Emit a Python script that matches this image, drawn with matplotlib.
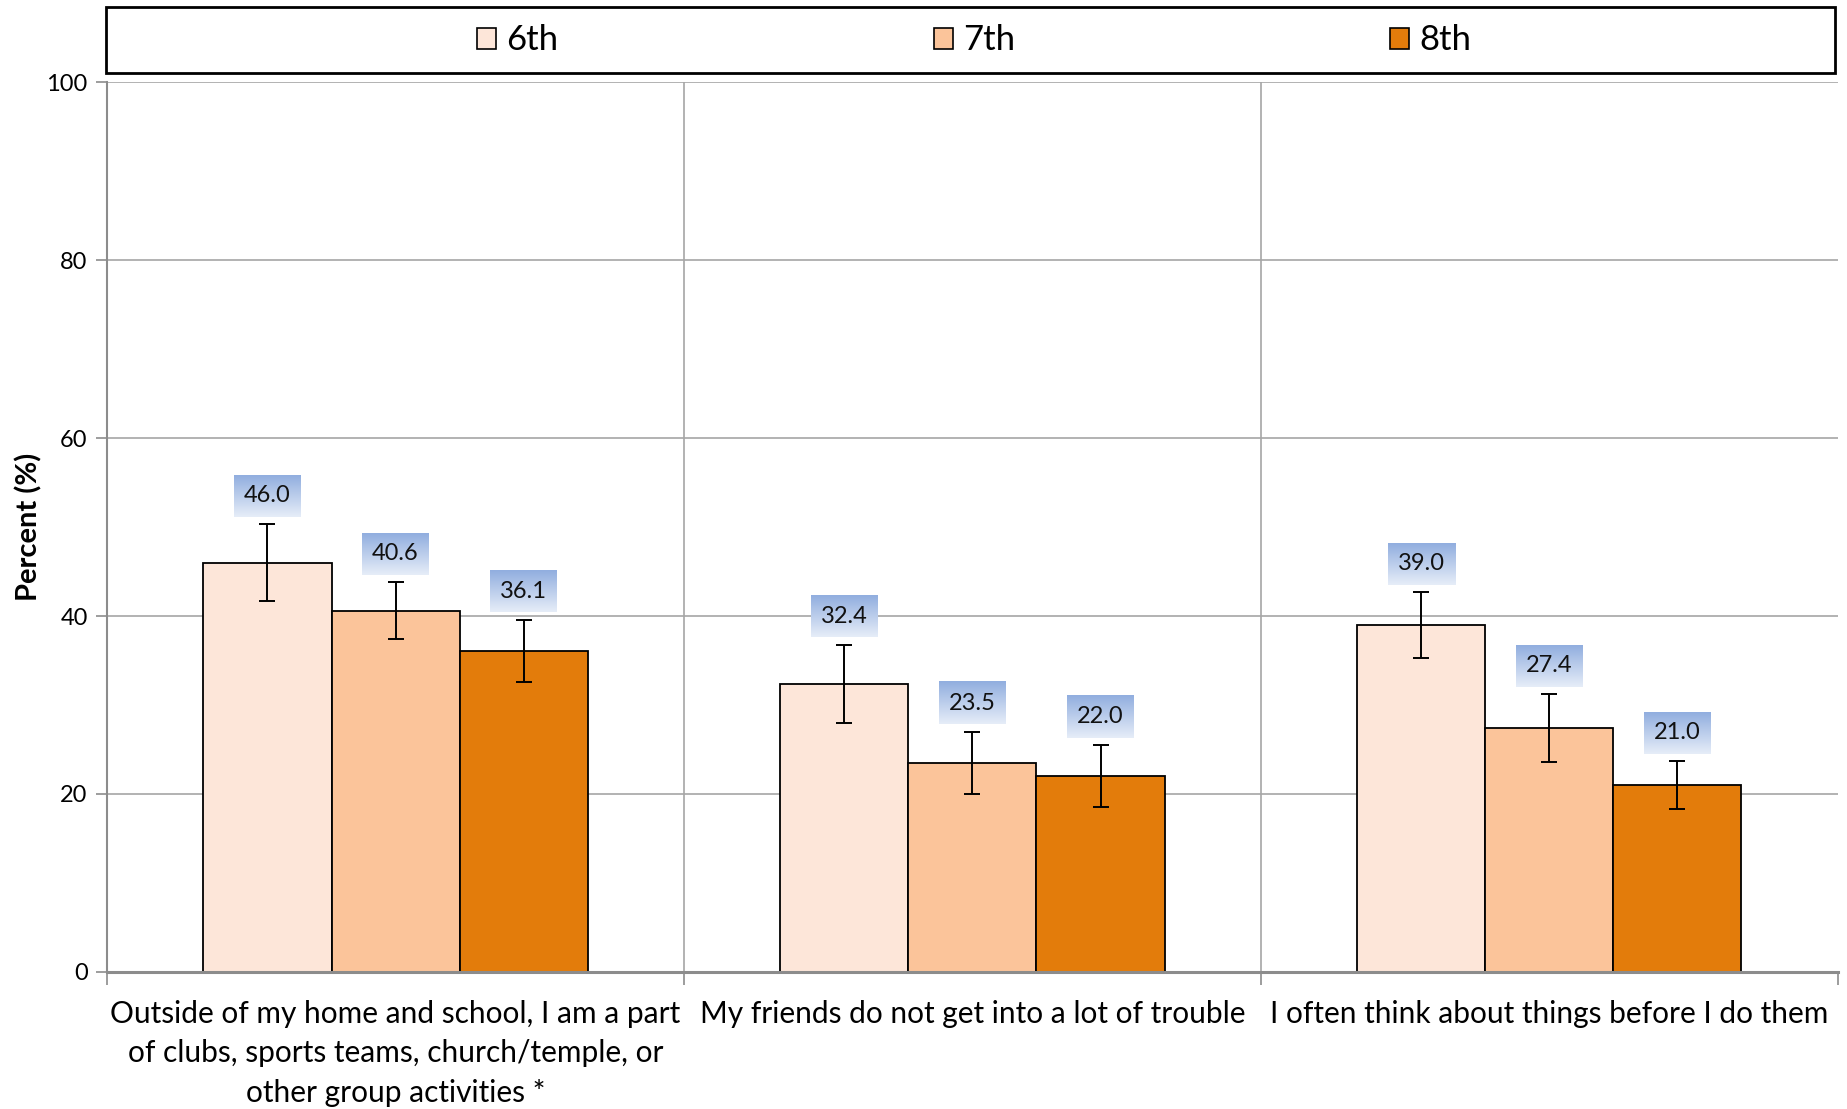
import matplotlib
matplotlib.use('Agg')
import matplotlib.pyplot as plt
import numpy as np
from matplotlib.patches import Rectangle
from matplotlib.colors import LinearSegmentedColormap

# data
categories = ['Outside of my home and school, I am a part\nof clubs, sports teams, church/temple, or\nother group activities *',
              'My friends do not get into a lot of trouble',
              'I often think about things before I do them']
grades = ['6th', '7th', '8th']
pct_6th = [46.0, 32.4, 39.0]
pct_7th = [40.6, 23.5, 27.4]
pct_8th = [36.1, 22.0, 21.0]
err_6th = [4.3, 4.4, 3.7]
err_7th = [3.2, 3.5, 3.8]
err_8th = [3.5, 3.5, 2.7]
yticks = [0, 20, 40, 60, 80, 100]

colors = ['#FDE6D9', '#FBC49A', '#E37C0B']
grid_col = '#A6A6A6'
axis_col = '#8C8C8C'

plt.rcParams['font.family'] = ['Lato', 'DejaVu Sans']

fig = plt.figure(figsize=(18.47, 11.09), dpi=100)
ax = fig.add_axes([0.058, 0.1237, 0.937, 0.802])

x = np.arange(len(categories))
w = 0.222
series = [(pct_6th, err_6th), (pct_7th, err_7th), (pct_8th, err_8th)]
labels = []
for i, (vals, errs) in enumerate(series):
    xs = x + (i - 1) * w
    ax.bar(xs, vals, width=w, color=colors[i], edgecolor='black', linewidth=1.3, zorder=2)
    ax.errorbar(xs, vals, yerr=errs, fmt='none', ecolor='black', elinewidth=1.4,
                capsize=6, capthick=1.4, zorder=3)
    for xx, v, e in zip(xs, vals, errs):
        labels.append(ax.text(xx, v + e + 3.2, f'{v:.1f}', ha='center', va='center',
                              fontsize=17, color='#111111', zorder=5))

ax.set_xlim(-0.5, len(categories) - 0.5)
ax.set_ylim(0, 100)
ax.set_yticks(yticks)
ax.yaxis.grid(True, color=grid_col, linewidth=1.2, zorder=0)
ax.set_axisbelow(True)
for b in x[:-1] + 0.5:
    ax.axvline(b, color=grid_col, linewidth=1.2, zorder=0)

ax.set_xticks(np.append(x - 0.5, x[-1] + 0.5))
ax.set_xticklabels([])
ax.set_xticks(x, minor=True)
ax.set_xticklabels(categories, minor=True, fontsize=21.5, linespacing=1.5)
ax.tick_params(axis='x', which='major', direction='out', length=9, width=1.2, color=axis_col)
ax.tick_params(axis='x', which='minor', length=0, pad=20)
ax.tick_params(axis='y', direction='out', length=8, width=1.2, color=axis_col, labelsize=17, pad=6)

for s in ['top', 'right']:
    ax.spines[s].set_visible(False)
ax.spines['left'].set_color(axis_col)
ax.spines['left'].set_linewidth(1.5)
ax.spines['bottom'].set_color(axis_col)
ax.spines['bottom'].set_linewidth(2.2)

ax.set_ylabel('Percent (%)', fontsize=21, fontweight='bold', labelpad=3)

# legend in a full-width box above the plot
handles = [Rectangle((0, 0), 1, 1, facecolor=c, edgecolor='black', linewidth=1.2) for c in colors]
fig.legend(handles, grades, loc='center', bbox_to_anchor=(0.5275, 0.9635), ncol=3, frameon=False,
           fontsize=25, handlelength=0.55, handleheight=0.55, handletextpad=0.3, columnspacing=10.8)
fig.add_artist(Rectangle((0.0574, 0.934), 0.936, 0.0597, transform=fig.transFigure,
                         fill=False, edgecolor='black', linewidth=2))

# gradient boxes behind the value labels
fig.canvas.draw()
renderer = fig.canvas.get_renderer()
cmap = LinearSegmentedColormap.from_list('lbl', ['#91AEDF', '#E6EDF8'])
grad = np.linspace(0, 1, 64).reshape(-1, 1)
inv = ax.transData.inverted()
for t in labels:
    bb = t.get_window_extent(renderer)
    cx, cy = (bb.x0 + bb.x1) / 2, (bb.y0 + bb.y1) / 2
    hw, hh = bb.width / 2 + 10, 21
    (x0, y0) = inv.transform((cx - hw, cy - hh))
    (x1, y1) = inv.transform((cx + hw, cy + hh))
    ax.imshow(grad, cmap=cmap, extent=[x0, x1, y0, y1], aspect='auto', origin='upper', zorder=4)
ax.set_xlim(-0.5, len(categories) - 0.5)
ax.set_ylim(0, 100)

fig.savefig('out.png', dpi=100)
